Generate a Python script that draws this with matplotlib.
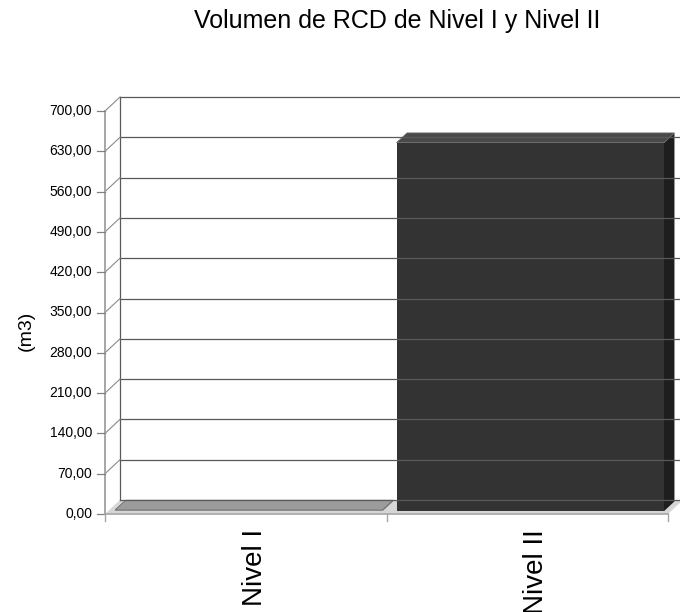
import matplotlib
matplotlib.use("Agg")
import matplotlib.pyplot as plt
from matplotlib.patches import Polygon
from matplotlib.lines import Line2D
import numpy as np

plt.rcParams['font.family'] = ['Liberation Sans', 'DejaVu Sans']

# Data
categories = ["Nivel I", "Nivel II"]
volumes = [2.0, 640.0]
y_ticks = [0, 70, 140, 210, 280, 350, 420, 490, 560, 630, 700]
y_tick_labels = ["0,00", "70,00", "140,00", "210,00", "280,00", "350,00",
                 "420,00", "490,00", "560,00", "630,00", "700,00"]
title = "Volumen de RCD de Nivel I y Nivel II"
y_label = "(m3)"

# Styling
W, H, DPI = 680, 612, 100
DEPTH = np.array([15.0, 14.0])        # pixel offset of the back plane
Z_FRONT, Z_BACK = 0.2, 0.9            # bar depth range (fraction of DEPTH)
BAR_W = 0.95
face_colors = [("#8c8c8c", "#9c9c9c", "#6e6e6e"),
               ("#333333", "#494949", "#1e1e1e")]

fig = plt.figure(figsize=(W / DPI, H / DPI), dpi=DPI)
ax = fig.add_axes([105 / W, (H - 514) / H, (668 - 105) / W, (514 - 111) / H])
ax.set_xlim(0, len(categories))
ax.set_ylim(0, 700)
ax.axis("off")

ident = matplotlib.transforms.IdentityTransform()


def P(x, y, z=0.0):
    """Data point (x, y) pushed back by depth fraction z, in display pixels."""
    px = ax.transData.transform((x, y))
    return px + z * DEPTH


def poly(points, **kw):
    fig.add_artist(Polygon(np.array(points), closed=True, transform=ident, **kw))


def line(p0, p1, **kw):
    fig.add_artist(Line2D([p0[0], p1[0]], [p0[1], p1[1]], transform=ident, **kw))


n = len(categories)
# Back wall with gridlines
poly([P(0, 0, 1), P(n, 0, 1), P(n, 700, 1), P(0, 700, 1)],
     facecolor="white", edgecolor="none")
for v in y_ticks:
    line(P(0, v, 1), P(n, v, 1), color="#595959", lw=0.9)
line(P(0, 0, 1), P(0, 700, 1), color="#595959", lw=0.9)

# Side wall diagonals from the value axis to the back wall
for v in y_ticks[1:]:
    line(P(0, v, 0), P(0, v, 1), color="#8a8a8a", lw=0.8)

# Floor
poly([P(0, 0, 0), P(n, 0, 0), P(n, 0, 1), P(0, 0, 1)],
     facecolor="#d6d6d6", edgecolor="none")

# Bars
for i, (val, (c_front, c_top, c_side)) in enumerate(zip(volumes, face_colors)):
    x0 = i + 0.5 - BAR_W / 2
    x1 = i + 0.5 + BAR_W / 2
    # right side face
    poly([P(x1, 0, Z_FRONT), P(x1, 0, Z_BACK), P(x1, val, Z_BACK), P(x1, val, Z_FRONT)],
         facecolor=c_side, edgecolor="none")
    # top face
    poly([P(x0, val, Z_FRONT), P(x1, val, Z_FRONT), P(x1, val, Z_BACK), P(x0, val, Z_BACK)],
         facecolor=c_top, edgecolor="#6a6a6a", lw=0.6)
    # front face
    poly([P(x0, 0, Z_FRONT), P(x1, 0, Z_FRONT), P(x1, val, Z_FRONT), P(x0, val, Z_FRONT)],
         facecolor=c_front, edgecolor="none")

# Value axis (front) with ticks and labels
axis_col = "#a6a6a6"
line(P(0, 0), P(0, 700), color=axis_col, lw=1.4)
for v, lab in zip(y_ticks, y_tick_labels):
    p = P(0, v)
    line(p, p + np.array([-8, 0]), color="#808080", lw=0.9)
    fig.text((p[0] - 13) / W, p[1] / H, lab, ha="right", va="center",
             fontsize=10, color="black")

# Category axis (front floor edge) with ticks and labels
line(P(0, 0), P(n, 0), color=axis_col, lw=1.2)
for k in range(n + 1):
    p = P(k, 0)
    line(p, p + np.array([0, -7]), color=axis_col, lw=1.0)
for i, cat in enumerate(categories):
    p = P(i + 0.5, 0)
    fig.text((p[0] + 9) / W, (p[1] - 15) / H, cat, rotation=90,
             ha="center", va="top", fontsize=20, color="black")

fig.text(26 / W, (H - 331) / H, y_label, rotation=90, ha="center", va="center",
         fontsize=14, color="black")
fig.text(397 / W, (H - 21) / H, title, ha="center", va="center",
         fontsize=18, color="black")

fig.savefig("out.png", dpi=DPI)
